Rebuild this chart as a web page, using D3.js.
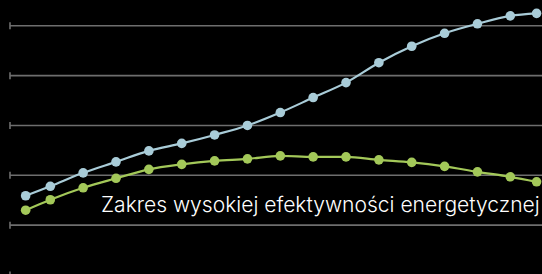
<!DOCTYPE html>
<html>
<head>
<meta charset="utf-8">
<script src="https://cdn.jsdelivr.net/npm/d3@7"></script>
<style>
  html, body { margin: 0; padding: 0; background: #000; }
  svg { display: block; }
</style>
</head>
<body>
<svg></svg>
<script>
// data
var xValues = [0.25, 1, 2, 3, 4, 5, 6, 7, 8, 9, 10, 11, 12, 13, 14, 15, 15.8];
var blueValues = [15.8, 17.7, 20.4, 22.6, 24.8, 26.3, 28.0, 29.9, 32.5, 35.5, 38.5, 42.5, 45.8, 48.4, 50.3, 51.9, 52.4];
var greenValues = [12.9, 15.0, 17.4, 19.3, 21.1, 22.1, 22.8, 23.2, 23.8, 23.6, 23.6, 23.0, 22.5, 21.7, 20.6, 19.6, 18.6];
var yTicks = [0, 10, 20, 30, 40, 50];
var label = "Zakres wysokiej efektywności energetycznej";

var width = 542, height = 274;
var svg = d3.select("svg").attr("width", width).attr("height", height);

var x = d3.scaleLinear().domain([1, 15]).range([50.3, 510.3]);
var y = d3.scaleLinear().domain([0, 50]).range([274.5, 25.3]);

// grid + ticks
var yAxis = d3.axisLeft(y)
  .tickValues(yTicks)
  .tickSize(-(width - 10))
  .tickFormat("");
var ax = svg.append("g")
  .attr("transform", "translate(10,0)")
  .call(yAxis);
ax.select(".domain").remove();
ax.selectAll(".tick line")
  .attr("stroke", "#6e6e6e")
  .attr("stroke-width", 1.6);
ax.selectAll(".tick").append("line")
  .attr("x1", 0).attr("x2", 0)
  .attr("y1", -3.5).attr("y2", 3.5)
  .attr("stroke", "#6e6e6e")
  .attr("stroke-width", 1.6);

var line = d3.line()
  .x(function(d, i) { return x(xValues[i]); })
  .y(function(d) { return y(d); })
  .curve(d3.curveMonotoneX);

function series(vals, color) {
  var g = svg.append("g");
  g.append("path")
    .datum(vals)
    .attr("d", line)
    .attr("fill", "none")
    .attr("stroke", color)
    .attr("stroke-width", 2.2);
  g.selectAll("circle")
    .data(vals)
    .enter().append("circle")
    .attr("cx", function(d, i) { return x(xValues[i]); })
    .attr("cy", function(d) { return y(d); })
    .attr("r", 4.8)
    .attr("fill", color);
}

series(blueValues, "#a9ccd8");
series(greenValues, "#a3c859");

// label
var t = svg.append("text")
  .attr("x", 101)
  .attr("y", 212)
  .attr("fill", "#fff")
  .style("font-family", "Inter, 'Open Sans', sans-serif")
  .style("font-weight", 300)
  .style("font-size", "20px")
  .text(label);
var w = t.node().getComputedTextLength();
t.style("font-size", (20 * 439 / w) + "px");
</script>
</body>
</html>
